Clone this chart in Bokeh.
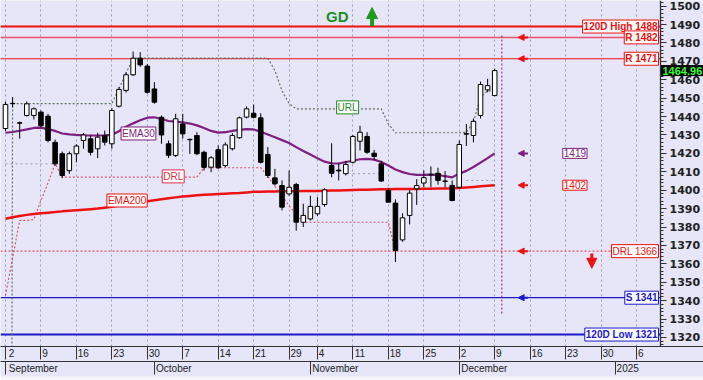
from bokeh.plotting import figure
from bokeh.models import (FixedTicker, LinearAxis, Range1d, Label, Arrow, NormalHead,
                          ColumnDataSource)
from bokeh.embed import file_html
from bokeh.resources import INLINE

# ---------------- data ----------------
opens = [1433.5, 1447.0, 1436.6, 1440.6, 1440.6, 1442.4, 1440.2, 1426.0, 1419.8, 1410.6,
         1419.8, 1427.0, 1427.9, 1422.5, 1429.7, 1425.2, 1445.6, 1454.2, 1462.7, 1471.7,
         1467.4, 1455.0, 1439.6, 1425.2, 1418.9, 1436.0, 1427.6, 1429.7, 1420.6, 1412.5,
         1422.0, 1413.4, 1422.5, 1428.5, 1439.7, 1441.8, 1439.3, 1419.4, 1406.7, 1402.5,
         1398.0, 1403.1, 1382.6, 1384.4, 1387.2, 1392.2, 1413.4, 1410.9, 1409.0, 1415.2,
         1426.6, 1429.2, 1420.1, 1414.3, 1399.8, 1393.0, 1373.0, 1386.3, 1400.8, 1403.9,
         1408.4, 1409.2, 1405.0, 1402.6, 1401.6, 1430.4, 1429.7, 1440.6, 1454.5, 1451.4]
highs = [1448.0, 1450.6, 1437.3, 1448.2, 1445.0, 1443.3, 1441.5, 1427.5, 1421.0, 1421.0,
         1425.0, 1431.0, 1429.7, 1431.2, 1432.4, 1444.6, 1456.0, 1464.0, 1475.3, 1475.0,
         1468.6, 1458.7, 1440.6, 1427.0, 1441.5, 1441.5, 1428.0, 1431.5, 1421.5, 1418.5,
         1424.3, 1426.0, 1431.0, 1440.0, 1445.5, 1446.5, 1441.8, 1423.4, 1411.6, 1405.3,
         1410.7, 1404.0, 1392.6, 1397.0, 1396.2, 1401.0, 1425.5, 1414.4, 1416.0, 1430.0,
         1435.0, 1431.5, 1421.9, 1416.0, 1401.3, 1395.0, 1387.5, 1400.0, 1406.0, 1410.7,
         1412.9, 1412.2, 1410.4, 1405.3, 1427.0, 1436.0, 1439.0, 1459.0, 1460.5, 1466.0]
lows = [1432.0, 1445.0, 1428.0, 1440.0, 1438.4, 1434.2, 1426.0, 1413.4, 1406.5, 1408.9,
        1415.2, 1422.5, 1418.9, 1417.4, 1424.3, 1422.5, 1445.0, 1453.0, 1462.0, 1467.0,
        1452.5, 1447.0, 1425.2, 1417.5, 1418.0, 1428.0, 1419.7, 1419.0, 1410.7, 1409.8,
        1411.5, 1412.5, 1421.6, 1428.0, 1439.0, 1439.0, 1414.5, 1406.7, 1402.5, 1389.0,
        1397.0, 1378.0, 1380.0, 1383.5, 1386.0, 1391.0, 1407.0, 1405.3, 1408.0, 1414.5,
        1421.6, 1419.8, 1416.2, 1404.5, 1397.0, 1361.0, 1372.0, 1381.4, 1392.0, 1401.6,
        1401.6, 1403.0, 1401.6, 1394.0, 1400.8, 1424.0, 1426.0, 1439.0, 1453.2, 1451.0]
closes = [1446.6, 1447.2, 1436.4, 1446.9, 1444.2, 1435.0, 1427.0, 1414.3, 1408.0, 1419.8,
          1424.0, 1430.0, 1420.6, 1428.8, 1426.1, 1443.3, 1454.7, 1462.7, 1471.7, 1468.1,
          1453.2, 1447.8, 1430.0, 1419.0, 1438.8, 1430.6, 1427.4, 1419.8, 1412.4, 1417.6,
          1412.2, 1424.6, 1429.7, 1439.3, 1444.2, 1439.6, 1415.2, 1408.0, 1403.5, 1390.8,
          1401.6, 1382.6, 1386.3, 1391.2, 1391.2, 1400.2, 1409.2, 1410.5, 1414.0, 1429.2,
          1431.5, 1420.6, 1418.3, 1405.0, 1393.5, 1367.3, 1385.0, 1398.4, 1402.5, 1406.8,
          1408.6, 1405.3, 1404.8, 1394.4, 1424.8, 1430.8, 1437.4, 1457.4, 1456.8, 1464.96]

ema30 = [1431.2, 1431.6, 1432.3, 1433.0, 1433.8, 1434.0, 1433.2, 1432.2, 1430.8, 1430.3,
         1430.0, 1429.8, 1429.7, 1429.7, 1429.8, 1430.1, 1432.0, 1434.5, 1436.3, 1438.0,
         1439.4, 1439.6, 1438.7, 1437.6, 1437.2, 1436.9, 1436.2, 1435.2, 1433.8, 1432.2,
         1431.3, 1431.5, 1432.2, 1432.8, 1433.2, 1433.0, 1431.8, 1430.3, 1428.8, 1427.2,
         1425.6, 1423.4, 1421.3, 1419.4, 1417.3, 1415.5, 1414.6, 1414.5, 1415.3, 1416.0,
         1416.8, 1417.0, 1416.6, 1415.3, 1413.4, 1411.2, 1409.8, 1408.8, 1408.3, 1408.3,
         1408.5, 1408.3, 1407.6, 1407.0, 1409.0, 1410.5, 1412.6, 1415.0, 1417.4, 1420.0]
ema200 = [1384.5, 1385.3, 1386.0, 1386.6, 1387.1, 1387.5, 1387.8, 1388.1, 1388.5, 1388.8,
          1389.1, 1389.4, 1389.7, 1390.0, 1390.5, 1391.0, 1391.7, 1392.4, 1393.0, 1393.5,
          1394.0, 1394.6, 1395.1, 1395.6, 1396.1, 1396.6, 1396.9, 1397.2, 1397.5, 1397.7,
          1397.9, 1398.1, 1398.3, 1398.5, 1398.8, 1399.1, 1399.2, 1399.3, 1399.3, 1399.4,
          1399.4, 1399.4, 1399.5, 1399.5, 1399.6, 1399.7, 1399.8, 1399.9, 1400.0, 1400.1,
          1400.2, 1400.3, 1400.4, 1400.5, 1400.5, 1400.6, 1400.6, 1400.7, 1400.7, 1400.8,
          1400.8, 1400.9, 1400.9, 1401.0, 1401.2, 1401.5, 1401.8, 1402.1, 1402.4, 1402.7]
url = [None, 1447.0, 1447.0, 1447.0, 1447.0, 1447.0, 1447.0, 1447.0, 1447.0, 1447.0,
       1447.0, 1447.0, 1447.0, 1447.0, 1447.0, 1447.0, 1455.2, 1463.4, 1471.7, 1471.7,
       1471.7, 1471.7, 1471.7, 1471.7, 1471.7, 1471.7, 1471.7, 1471.7, 1471.7, 1471.7,
       1471.7, 1471.7, 1471.7, 1471.7, 1471.7, 1471.7, 1471.7, 1471.7, 1465.0, 1454.0,
       1447.0, 1444.2, 1444.2, 1444.2, 1444.2, 1444.2, 1444.2, 1444.2, 1444.2, 1444.2,
       1444.2, 1444.2, 1444.2, 1444.2, 1436.0, 1431.2, 1431.2, 1431.2, 1431.2, 1431.2,
       1431.2, 1431.2, 1431.2, 1431.2, 1431.2, 1431.5, 1437.0, 1450.5, 1454.0, 1454.0]
drl = [1342.8, 1363.0, 1383.6, 1383.6, 1384.0, 1394.4, 1404.0, 1414.3, 1407.1, 1407.1,
       1407.1, 1407.1, 1407.1, 1407.1, 1407.1, 1407.1, 1407.1, 1407.1, 1407.1, 1407.1,
       1407.1, 1407.1, 1407.1, 1407.1, 1407.1, 1407.1, 1407.1, 1407.1, 1412.2, 1412.2,
       1412.2, 1412.2, 1412.2, 1412.2, 1412.2, 1412.2, 1412.2, 1407.5, 1402.0, 1397.0,
       1391.5, 1387.0, 1382.6, 1382.6, 1382.6, 1382.6, 1382.6, 1382.6, 1382.6, 1382.6,
       1382.6, 1382.6, 1382.6, 1382.6, 1382.6, 1366.5]

day_ticks = [0, 5, 10, 15, 20, 25, 30, 35, 40, 44, 49, 54, 59, 64, 69, 74, 79, 84, 89]
day_labels = ["2", "9", "16", "23", "30", "7", "14", "21", "29", "4", "11", "18", "25",
              "2", "9", "16", "23", "30", "6"]
month_starts = [0, 21, 43, 64, 86]
month_labels = ["September", "October", "November", "December", "2025"]

price_ticks = list(range(1320, 1501, 10))
level_labels = ["120D High 1488", "R 1482", "R 1471", "DRL 1366", "S 1341", "120D Low 1321"]
level_values = [1488.9, 1483.0, 1471.4, 1366.9, 1341.6, 1321.6]
last_price = 1464.96
ema30_label = "1419"
ema200_label = "1402"

# ---------------- layout / styling ----------------
BG = "#E6E6F8"
RED = "#EE1111"
PINK = "#F0506A"
PURPLE = "#7E1E80"
BLUE = "#1A1ACC"
GREEN = "#1E8E1E"
W, H = 703, 380
PX = 7.09                       # pixels per trading day
FIRST_PX = 5.0                  # pixel position of the first candle
X0 = -FIRST_PX / PX
X1 = X0 + W / PX
AXIS_X = X0 + 660 / PX          # price axis position (inside the frame)
FRAME_H = 346
Y0 = 1315.1
Y1 = Y0 + FRAME_H / 1.841
NBSP = "\u00a0"

p = figure(width=W, height=H, output_backend="svg", toolbar_location=None,
           x_range=Range1d(X0, X1), y_range=Range1d(Y0, Y1), y_axis_location=None,
           min_border_left=0, min_border_right=0, min_border_top=0,
           min_border_bottom=H - FRAME_H)
p.background_fill_color = BG
p.outline_line_color = None

# right price axis, placed at a fixed x so that the tags right of it stay visible
yax = LinearAxis(fixed_location=AXIS_X, ticker=FixedTicker(ticks=price_ticks))
yax.major_tick_out = 6
yax.major_tick_in = 0
yax.axis_line_color = "#333333"
yax.axis_line_width = 1.3
yax.major_tick_line_color = "#333333"
yax.minor_tick_line_color = None
yax.major_label_text_font = "DejaVu Sans"
yax.major_label_text_font_style = "bold"
yax.major_label_text_font_size = "11px"
yax.major_label_text_color = "#222222"
yax.major_label_standoff = 3
p.add_layout(yax, "right")

yminor = LinearAxis(fixed_location=AXIS_X,
                    ticker=FixedTicker(ticks=[v for v in range(1316, 1503, 2) if v % 10]))
yminor.major_tick_out = 3
yminor.major_tick_in = 0
yminor.axis_line_color = None
yminor.major_tick_line_color = "#333333"
yminor.minor_tick_line_color = None
yminor.major_label_text_color = None
p.add_layout(yminor, "right")

# Arial-like glyph widths (per 1000 em), used to left-align the date labels
AW = {c: 556 for c in "0123456789"}
AW.update({"S": 667, "e": 556, "p": 556, "t": 278, "m": 833, "b": 556, "r": 333,
           "O": 778, "c": 500, "o": 556, "N": 722, "v": 500, "D": 722})

def pad_left(tick, s, size=10):
    sp = 0.278 * size
    w = sum(AW.get(ch, 556) for ch in s) * size / 1000.0
    n = int(round((w + 4.0) / sp))
    tick_px = (tick - X0) * PX
    if tick_px - (n * sp + w) / 2.0 < 0:      # label gets pushed inside the canvas
        n = int(round((tick_px + 2.0) / sp))
    return NBSP * n + s

def style_date_axis(ax, ticks, labels):
    ax.ticker = FixedTicker(ticks=list(ticks))
    ax.major_label_overrides = {t: pad_left(t, s) for t, s in zip(ticks, labels)}
    ax.major_tick_out = 13
    ax.major_tick_in = 0
    ax.major_tick_line_color = "#333333"
    ax.minor_tick_line_color = None
    ax.axis_line_color = "#333333"
    ax.major_label_standoff = -12
    ax.major_label_text_font = "Liberation Sans"
    ax.major_label_text_font_size = "10px"
    ax.major_label_text_color = "#222222"
    if "background_fill_color" in ax.properties():
        ax.background_fill_color = BG

style_date_axis(p.xaxis[0], day_ticks, day_labels)
month_axis = LinearAxis()
style_date_axis(month_axis, month_starts, month_labels)
p.add_layout(month_axis, "below")
p.border_fill_color = "#F6F6F8" if "background_fill_color" in month_axis.properties() else BG

p.xgrid.ticker = FixedTicker(ticks=day_ticks)
p.xgrid.grid_line_color = "#9C9CB4"
p.xgrid.grid_line_dash = "2 3"
p.ygrid.grid_line_color = None

idx = list(range(len(opens)))

# horizontal level lines (stop at the price axis)
level_styles = [(RED, 2, "solid"), (PINK, 1.5, "solid"), (RED, 1.2, "solid"),
                (PINK, 1.2, "2 2"), (BLUE, 1.2, "solid"), (BLUE, 2, "solid")]
for v, (c, lw, dash) in zip(level_values, level_styles):
    p.segment(x0=[X0], x1=[AXIS_X], y0=[v], y1=[v], line_color=c, line_width=lw,
              line_dash=dash)

# gray dotted support segments
p.segment(x0=[idx[0], idx[49], idx[65]], x1=[idx[7], idx[53], idx[69]],
          y0=[closes[7], closes[47] - 1.5, closes[61]],
          y1=[closes[7], closes[47] - 1.5, closes[61]],
          line_color="#9A9AA8", line_dash="2 3", line_width=1)

# URL / DRL step lines
p.line(idx, url, line_color="#5E7460", line_dash="2 2", line_width=1.2)
p.line(idx[:len(drl)], drl, line_color="#E0506A", line_dash="2 2", line_width=1.2)

# moving averages
p.line(idx, ema200, line_color=RED, line_width=2.5)
p.line(idx, ema30, line_color=PURPLE, line_width=2.2)

# candles
src = ColumnDataSource(dict(
    x=idx, h=highs, l=lows,
    top=[max(o, c) for o, c in zip(opens, closes)],
    bottom=[min(o, c) for o, c in zip(opens, closes)],
    fill=["white" if c >= o else "black" for o, c in zip(opens, closes)]))
p.segment(x0="x", y0="l", x1="x", y1="h", source=src, line_color="black", line_width=1)
p.vbar(x="x", width=0.64, top="top", bottom="bottom", fill_color="fill",
       line_color="black", line_width=1, source=src)

# today marker
today = len(opens)
p.segment(x0=[today], x1=[today], y0=[1333.0], y1=[1485.0], line_color="#8A3A90",
          line_dash="2 2", line_width=1.2)

def box_label(x, y, text, color, align="left", bold=False, size="10px", xoff=0):
    p.add_layout(Label(x=x, y=y, text=text, text_color=color, text_align=align,
                       text_baseline="middle", text_font="Liberation Sans",
                       text_font_size=size, text_font_style="bold" if bold else "normal",
                       background_fill_color="white", border_line_color=color,
                       border_line_width=1, padding=1, x_offset=xoff))

level_label_styles = [(RED, True), (RED, True), (RED, True), (RED, False), (BLUE, True),
                      (BLUE, True)]
for v, s, (c, b) in zip(level_values, level_labels, level_label_styles):
    box_label(AXIS_X, v, s, c, align="right", bold=b, xoff=-2)

box_label(16.3, 1430.8, "EMA30", PURPLE)
box_label(14.3, 1394.4, "EMA200", RED)
box_label(22.1, 1407.5, "DRL", "#E0304A")
box_label(46.7, 1445.0, "URL", GREEN)
box_label(78.6, ema30[-1], ema30_label, PURPLE)
box_label(78.6, ema200[-1], ema200_label, RED)

# last price tag over the axis
p.add_layout(Label(x=AXIS_X, y=last_price, text=f"{last_price:.2f}", text_color="#33FF33",
                   text_align="left", text_baseline="middle", text_font="Liberation Sans",
                   text_font_size="11px", text_font_style="bold",
                   background_fill_color="black", border_line_color="black", padding=1,
                   x_offset=1))

# GD signal and arrows
p.add_layout(Label(x=46.8, y=1494.6, text="GD", text_color=GREEN, text_align="center",
                   text_baseline="middle", text_font="Liberation Sans",
                   text_font_size="15px", text_font_style="bold"))
p.add_layout(Arrow(x_start=51.7, y_start=1489.2, x_end=51.7, y_end=1499.2,
                   line_color="#1E9A1E", line_width=4,
                   end=NormalHead(size=11, fill_color="#1E9A1E", line_color="#1E9A1E")))
p.add_layout(Arrow(x_start=82.7, y_start=1365.6, x_end=82.7, y_end=1357.6,
                   line_color="#EE1111", line_width=3,
                   end=NormalHead(size=10, fill_color="#EE1111", line_color="#EE1111")))

arrow_levels = [(level_values[1], RED), (level_values[2], RED), (ema30[-1], PURPLE),
                (ema200[-1], RED), (level_values[3], RED), (level_values[4], BLUE)]
for v, c in arrow_levels:
    p.add_layout(Arrow(x_start=73.7, y_start=v, x_end=72.3, y_end=v, line_color=c,
                       line_width=2, end=NormalHead(size=6, fill_color=c, line_color=c)))

open("out.html", "w").write(file_html(p, INLINE))
